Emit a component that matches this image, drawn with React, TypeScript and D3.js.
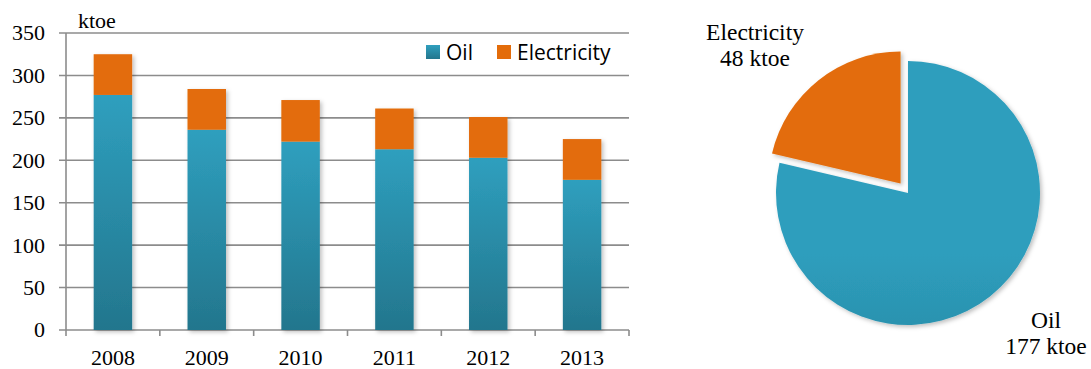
import React from "react";
import * as d3 from "d3";

const years = ["2008", "2009", "2010", "2011", "2012", "2013"];
const oil = [277, 236, 222, 213, 203, 177];
const electricity = [48, 48, 49, 48, 48, 48];
const yTicks = [0, 50, 100, 150, 200, 250, 300, 350];
const seriesNames = ["Oil", "Electricity"];
const pieLabels = ["Oil", "Electricity"];
const pieValues = [177, 48];
const unit = "ktoe";

const W = 1091;
const H = 369;
const ORANGE = "#e36c0a";
const GRID = "#8c8c8c";
const SERIF = "'Liberation Serif', 'Times New Roman', serif";
const SANS = "'Open Sans', 'Noto Sans', sans-serif";

export default function App() {
  const x = d3.scaleBand<string>().domain(years).range([66, 629]).paddingInner(0.59).paddingOuter(0.295);
  const y = d3.scaleLinear().domain([0, 350]).range([330, 33]);
  const stack = d3.stack<number>().keys(["oil", "electricity"]).value((i, k) => (k === "oil" ? oil[i] : electricity[i]));
  const layers = stack(years.map((_, i) => i));

  // pie geometry
  const cx = 908;
  const cy = 193;
  const r = 132;
  const pie = d3.pie<number>().sort(null).startAngle(0).endAngle(2 * Math.PI);
  const arcs = pie(pieValues);
  const arcGen = d3.arc<d3.PieArcDatum<number>>().innerRadius(0).outerRadius(r);
  const explode = 12;

  const boundaries = d3.range(years.length + 1).map((i) => 66 + i * x.step());

  return (
    <div style={{ position: "absolute", left: 0, top: 0 }}>
      <svg width={W} height={H} style={{ display: "block", background: "#fff" }}>
        <defs>
          <linearGradient id="oilBar" x1="0" y1="0" x2="0" y2="1">
            <stop offset="0" stopColor="#2f9fbe" />
            <stop offset="1" stopColor="#23768d" />
          </linearGradient>
          <linearGradient id="oilPie" gradientUnits="userSpaceOnUse" x1="0" y1={cy - r} x2="0" y2={cy + r}>
            <stop offset="0" stopColor="#2e9ebd" />
            <stop offset="1" stopColor="#22748b" />
          </linearGradient>
          <filter id="shadow" x="-20%" y="-20%" width="150%" height="150%">
            <feDropShadow dx="2" dy="2" stdDeviation="2" floodColor="#000" floodOpacity="0.25" />
          </filter>
        </defs>

        {/* gridlines */}
        {yTicks.map((t) => (
          <line key={t} x1={59} x2={629} y1={y(t)} y2={y(t)} stroke={GRID} strokeWidth={1.6} />
        ))}
        {/* axes */}
        <line x1={66} x2={66} y1={y(350)} y2={y(0)} stroke={GRID} strokeWidth={1.6} />
        {boundaries.map((bx, i) => (
          <line key={i} x1={bx} x2={bx} y1={y(0)} y2={336} stroke={GRID} strokeWidth={1.6} />
        ))}

        {/* stacked bars */}
        <g filter="url(#shadow)">
          {layers.map((layer, li) =>
            layer.map((d, i) => (
              <rect
                key={`${li}-${i}`}
                x={x(years[i])!}
                width={x.bandwidth()}
                y={y(d[1])}
                height={y(d[0]) - y(d[1])}
                fill={li === 0 ? "url(#oilBar)" : ORANGE}
              />
            ))
          )}
        </g>

        {/* y tick labels */}
        {yTicks.map((t) => (
          <text key={t} x={45} y={y(t)} dy="0.34em" textAnchor="end" fontFamily={SERIF} fontSize={22} fill="#000">
            {t}
          </text>
        ))}
        <text x={78} y={28} fontFamily={SERIF} fontSize={22} fill="#000">
          {unit}
        </text>

        {/* x labels */}
        {years.map((yr) => (
          <text key={yr} x={x(yr)! + x.bandwidth() / 2} y={365} textAnchor="middle" fontFamily={SERIF} fontSize={22} fill="#000">
            {yr}
          </text>
        ))}

        {/* legend */}
        <rect x={426} y={45} width={14} height={14} fill="url(#oilBar)" />
        <text x={446} y={60} fontFamily={SANS} fontSize={21} fill="#000">
          {seriesNames[0]}
        </text>
        <rect x={497} y={45} width={14} height={14} fill={ORANGE} />
        <text x={517} y={60} fontFamily={SANS} fontSize={21} fill="#000">
          {seriesNames[1]}
        </text>

        {/* pie */}
        <g filter="url(#shadow)">
          {arcs.map((a, i) => {
            const mid = (a.startAngle + a.endAngle) / 2;
            const off = i === 1 ? explode : 0;
            const dx = Math.sin(mid) * off;
            const dy = -Math.cos(mid) * off;
            return (
              <path
                key={i}
                d={arcGen(a)!}
                transform={`translate(${cx + dx},${cy + dy})`}
                fill={i === 0 ? "url(#oilPie)" : ORANGE}
              />
            );
          })}
        </g>

        {/* pie labels */}
        <text x={755} y={40} textAnchor="middle" fontFamily={SERIF} fontSize={23.5} fill="#000">
          <tspan x={755}>{pieLabels[1]}</tspan>
          <tspan x={755} dy={26}>{`${pieValues[1]} ${unit}`}</tspan>
        </text>
        <text x={1046} y={328} textAnchor="middle" fontFamily={SERIF} fontSize={23.5} fill="#000">
          <tspan x={1046}>{pieLabels[0]}</tspan>
          <tspan x={1046} dy={26}>{`${pieValues[0]} ${unit}`}</tspan>
        </text>
      </svg>
    </div>
  );
}
